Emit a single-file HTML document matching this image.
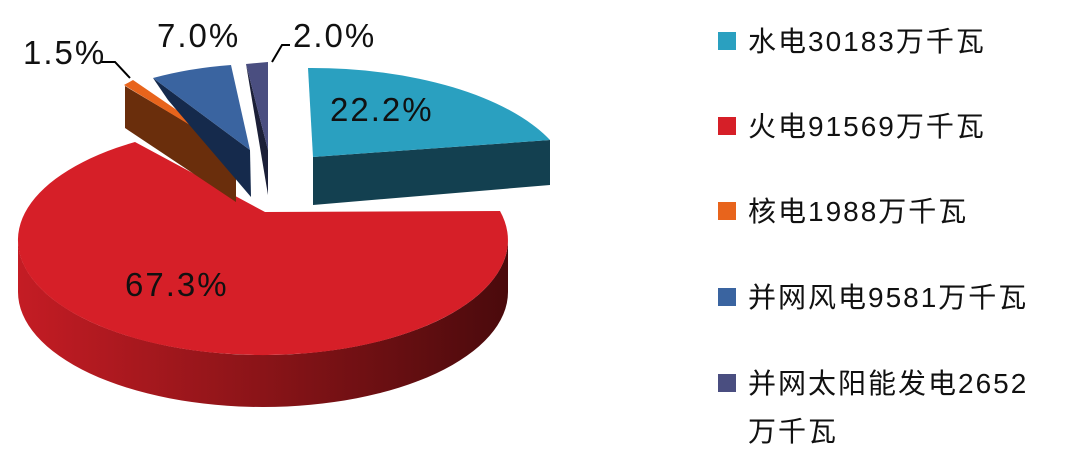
<html><body style="margin:0;background:#fff;width:1082px;height:451px;overflow:hidden">
<svg width="1082" height="451" xmlns="http://www.w3.org/2000/svg" style="font-family:'Liberation Sans','Noto Sans CJK SC',sans-serif">
<defs>
<linearGradient id="rs" x1="0" x2="1" y1="0" y2="0">
<stop offset="0" stop-color="#c41c24"/><stop offset="0.5" stop-color="#8a1418"/><stop offset="1" stop-color="#4a0a0c"/>
</linearGradient>
</defs>
<!-- red side -->
<path d="M18,240 A245 115 0 0 0 508,240 L508,292 A245 115 0 0 1 18,292 Z" fill="url(#rs)"/>
<!-- red top -->
<path d="M265,212 L135,142 A245 115 0 1 0 500,211 Z" fill="#d61f28"/>
<!-- hydro -->
<path d="M313,157 L550,140 L550,185 L313,205 Z" fill="#134050"/>
<path d="M313,157 L308,68 A260 120 0 0 1 550,140 Z" fill="#2aa0c0"/>
<!-- orange -->
<path d="M125,86 L236,152 L236,202 L125,128 Z" fill="#6a2e0c"/>
<path d="M124,85 L133,80 L238,152 L236,153 Z" fill="#e8641c"/>
<!-- blue -->
<path d="M153,78 L250,150 L251,197 L168,100 Z" fill="#152a4c"/>
<path d="M153,78 Q190,68 231,65 L250,150 Z" fill="#3a64a0"/>
<!-- solar -->
<path d="M246,64 L268,150 L268,195 Z" fill="#1c2038"/>
<path d="M246,64 L268,62 L268,150 Z" fill="#4a4e80"/>
<!-- leader lines -->
<polyline points="100,62 115,62 130,78" fill="none" stroke="#000" stroke-width="2"/>
<polyline points="290,45 282,45 272,62" fill="none" stroke="#000" stroke-width="2"/>
<g font-size="33" fill="#111" letter-spacing="2">
<text x="23" y="64">1.5%</text>
<text x="157" y="47">7.0%</text>
<text x="293" y="47">2.0%</text>
<text x="330" y="121">22.2%</text>
<text x="125" y="296">67.3%</text>
</g>
<g font-size="28" fill="#111" letter-spacing="2">
<rect x="718" y="32" width="18" height="18" fill="#2aa0c0"/><text x="748" y="51">水电30183万千瓦</text>
<rect x="718" y="117" width="18" height="18" fill="#d61f28"/><text x="748" y="136">火电91569万千瓦</text>
<rect x="718" y="202" width="18" height="18" fill="#e8641c"/><text x="748" y="221">核电1988万千瓦</text>
<rect x="718" y="288" width="18" height="18" fill="#3a64a0"/><text x="748" y="307">并网风电9581万千瓦</text>
<rect x="718" y="374" width="18" height="18" fill="#4a4e80"/><text x="748" y="393">并网太阳能发电2652</text>
<text x="748" y="441">万千瓦</text>
</g>
</svg>
</body></html>
